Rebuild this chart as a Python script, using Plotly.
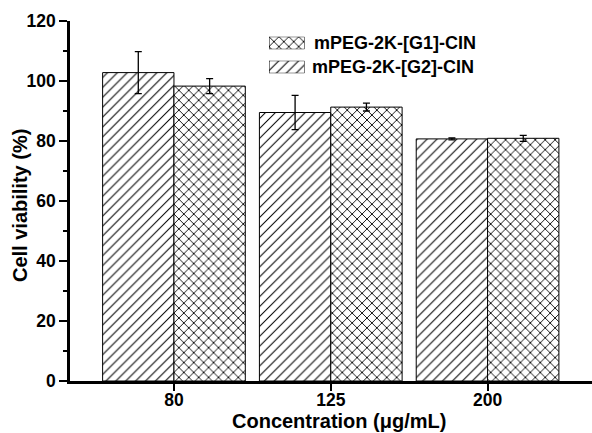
import plotly.graph_objects as go

categories = ["80", "125", "200"]
g2_values = [102.8, 89.5, 80.7]
g2_errors = [7.0, 5.7, 0.3]
g1_values = [98.3, 91.3, 80.9]
g1_errors = [2.5, 1.3, 1.0]
y_ticks = [0, 20, 40, 60, 80, 100, 120]
y_minor_ticks = [10, 30, 50, 70, 90, 110]
series_names = ["mPEG-2K-[G1]-CIN", "mPEG-2K-[G2]-CIN"]

font_family = "Liberation Sans, Arial, sans-serif"
W, H = 592, 433
ML, MR, MT, MB = 70, 0, 21, 52
PW, PH = W - ML - MR, H - MT - MB

def px_x(px):
    return (px - ML) / PW

def px_y(py):
    return (H - MB - py) / PH

diag = dict(shape="/", fgcolor="black", bgcolor="white", fillmode="replace", size=7, solidity=0.15)
cross = dict(shape="x", fgcolor="black", bgcolor="white", fillmode="replace", size=7, solidity=0.24)

fig = go.Figure()
fig.add_trace(go.Bar(
    x=categories, y=g2_values, name=series_names[1], showlegend=False,
    marker=dict(color="white", line=dict(color="black", width=1), pattern=diag),
    error_y=dict(type="data", array=g2_errors, color="black", thickness=1.3, width=3.5),
))
fig.add_trace(go.Bar(
    x=categories, y=g1_values, name=series_names[0], showlegend=False,
    marker=dict(color="white", line=dict(color="black", width=1), pattern=cross),
    error_y=dict(type="data", array=g1_errors, color="black", thickness=1.3, width=3.5),
))

# legend swatches (small stand-alone axes)
fig.add_trace(go.Bar(x=[0], y=[1], xaxis="x2", yaxis="y2", showlegend=False, hoverinfo="skip",
                     marker=dict(color="white", line=dict(color="black", width=1), pattern=cross)))
fig.add_trace(go.Bar(x=[0], y=[1], xaxis="x3", yaxis="y3", showlegend=False, hoverinfo="skip",
                     marker=dict(color="white", line=dict(color="black", width=1), pattern=diag)))

hidden = dict(visible=False, fixedrange=True)

annotations = [
    dict(text=series_names[0], x=px_x(312), y=px_y(43), xanchor="left", yanchor="middle"),
    dict(text=series_names[1], x=px_x(310), y=px_y(67), xanchor="left", yanchor="middle"),
]
for a in annotations:
    a.update(xref="paper", yref="paper", showarrow=False,
             font=dict(size=18, family=font_family, weight="bold", color="black"))
annotations.append(dict(text="Concentration (μg/mL)", x=px_x(339), y=px_y(421),
                        xref="paper", yref="paper", xanchor="center", yanchor="middle", showarrow=False,
                        font=dict(size=20, family=font_family, weight="bold", color="black")))
annotations.append(dict(text="Cell viability (%)", x=px_x(20), y=px_y(206), textangle=-90,
                        xref="paper", yref="paper", xanchor="center", yanchor="middle", showarrow=False,
                        font=dict(size=20, family=font_family, weight="bold", color="black")))

fig.update_layout(
    width=W, height=H,
    margin=dict(l=ML, r=MR, t=MT, b=MB),
    paper_bgcolor="white", plot_bgcolor="white",
    barmode="group", bargap=0.09, bargroupgap=0,
    font=dict(family=font_family, size=17, color="black"),
    showlegend=False,
    annotations=annotations,
    xaxis=dict(
        type="category", range=[-0.663, 2.666], automargin=False,
        showline=True, linecolor="black", linewidth=2.5,
        ticks="outside", ticklen=7, tickwidth=2, tickcolor="black",
        ticklabelstandoff=-6,
        tickfont=dict(size=17.5, family=font_family, weight="bold"),
        showgrid=False, zeroline=False,
    ),
    yaxis=dict(
        range=[0, 120], tickvals=y_ticks, automargin=False,
        showline=True, linecolor="black", linewidth=2.5,
        ticks="outside", ticklen=8, tickwidth=2, tickcolor="black",
        minor=dict(tickvals=y_minor_ticks, ticks="outside", ticklen=4, tickwidth=2,
                   tickcolor="black", showgrid=False),
        tickfont=dict(size=17.5, family=font_family, weight="bold"),
        showgrid=False, zeroline=False,
    ),
    xaxis2=dict(domain=[px_x(269), px_x(304.5)], range=[-0.455, 0.455], anchor="y2", **hidden),
    yaxis2=dict(domain=[px_y(49.3), px_y(36.7)], range=[0, 1], anchor="x2", **hidden),
    xaxis3=dict(domain=[px_x(269), px_x(304.5)], range=[-0.455, 0.455], anchor="y3", **hidden),
    yaxis3=dict(domain=[px_y(73.3), px_y(60.7)], range=[0, 1], anchor="x3", **hidden),
)

fig.write_html("out.html", config=dict(displayModeBar=False),
               post_script="document.body.style.margin='0px';document.body.style.overflow='hidden';")
